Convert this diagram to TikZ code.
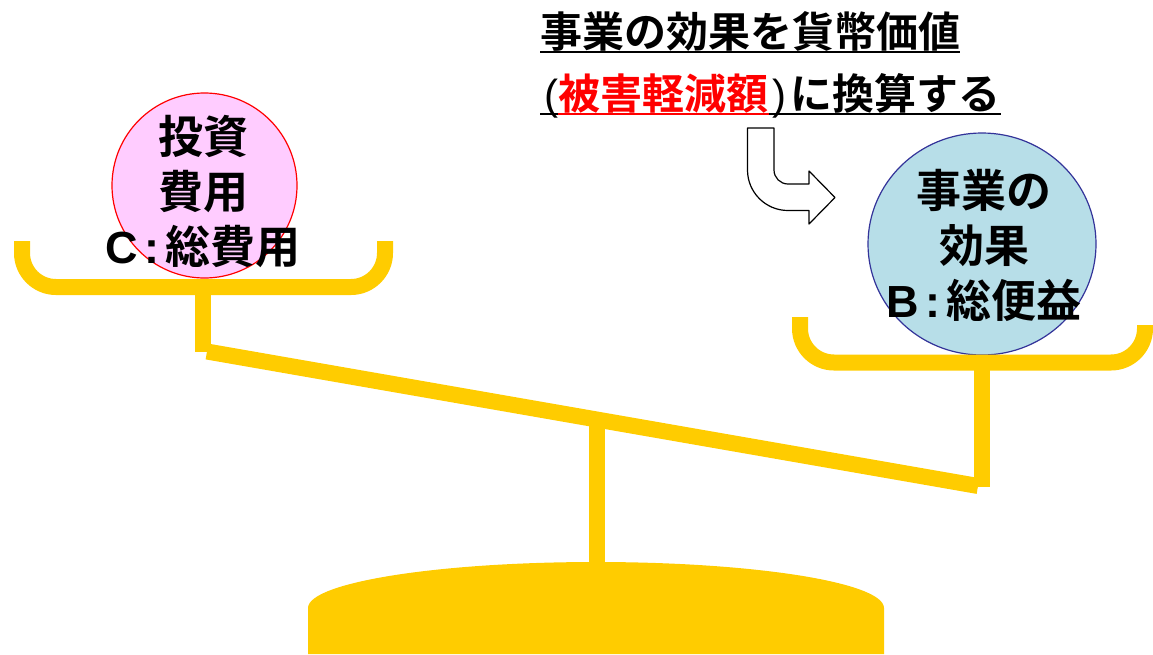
\documentclass[tikz,border=0pt]{standalone}
\usepackage{fontspec}
\newfontfamily\jpfont{Noto Sans CJK JP}[BoldFont={Noto Sans CJK JP Bold}]
\newfontfamily\latinfont{Liberation Sans}
\usetikzlibrary{positioning,shapes.geometric}
\definecolor{scaleyellow}{HTML}{FFCC00}
\definecolor{costpink}{HTML}{FFCCFF}
\definecolor{gainblue}{HTML}{B7DEE8}
\definecolor{gainnavy}{HTML}{333399}
\newcommand{\sideletter}[1]{{\latinfont\bfseries #1\hspace{6pt}:\hspace{6pt}}}
\begin{document}
\begin{tikzpicture}[x=1pt,y=-1pt,line join=round,font=\jpfont\bfseries]
	\tikzset{bar/.style={draw=scaleyellow,line width=16pt},
		pan/.style={bar,rounded corners=34pt},
		big/.style={font=\jpfont\bfseries\fontsize{45}{55}\selectfont,align=center,inner sep=0pt},
		head/.style={font=\jpfont\bfseries\fontsize{42}{50}\selectfont,inner sep=0pt,anchor=base west}}
	\useasboundingbox (0,0) rectangle (1153,654);
	\draw[bar] (596.5,420)--(596.5,570);
	\fill[scaleyellow] (308,654)--(308,608) arc[start angle=180,end angle=0,x radius=288pt,y radius=46pt]--(884,654)--cycle;
	\draw[bar] (203,295)--(203,352);
	\draw[bar] (982,370)--(982,487);
	\draw[bar] (207,351.5)--(978,486);
	\node[circle,draw=red,line width=1.2pt,fill=costpink,minimum size=185pt,inner sep=0pt] (cost) at (204.5,185.5) {};
	\node[ellipse,draw=gainnavy,line width=1.2pt,fill=gainblue,minimum width=228pt,minimum height=222pt,inner sep=0pt] (gain) at (982,244) {};
	\draw[pan] (22,241)--(22,287)--(385,287)--(385,241);
	\draw[pan] (800,317)--(800,362.5)--(1145,362.5)--(1145,325);
	\node[big] (costtext) at (203,191.5) {投資\\費用\\\sideletter{C}総費用};
	\node[big] (gaintext) at (984,245) {事業の\\効果\\\sideletter{B}総便益};
	\node[head] (line1) at (540,47) {事業の効果を貨幣価値};
	\node[head] (open) at (540,109) {{\latinfont\mdseries\hspace{4pt}(\hspace{4pt}}};
	\node[head,text=red,right=0pt of open.base east,anchor=base west] (loss) {被害軽減額};
	\node[head,right=0pt of loss.base east,anchor=base west] (rest) {{\latinfont\mdseries\hspace{4pt})\hspace{4pt}}に換算する};
	\draw[line width=2pt] ([yshift=-5pt]line1.base west)--([yshift=-5pt]line1.base east);
	\draw[line width=2pt] ([yshift=-5pt]open.base west)--([yshift=-5pt]rest.base east);
	\draw[line width=2pt,red] ([yshift=-5pt]loss.base west)--([yshift=-5pt]loss.base east);
	\draw[line width=1.2pt,fill=white] (747.5,128)--(774,128)--(774,170) arc[start angle=180,end angle=270,radius=14pt]
		--(809,184)--(809,171)--(835,197.5)--(809,224)--(809,210.5)--(788,210.5) arc[start angle=270,end angle=180,radius=40.5pt]--cycle;
\end{tikzpicture}
\end{document}
